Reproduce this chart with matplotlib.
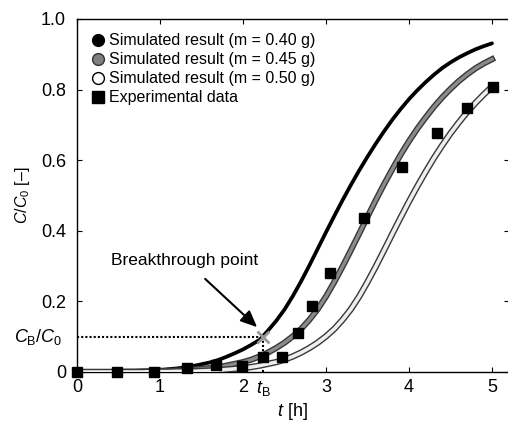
import matplotlib
matplotlib.use('Agg')
import matplotlib.pyplot as plt
import matplotlib.patheffects as pe
from matplotlib.lines import Line2D

plt.rcParams['font.family'] = ['Liberation Sans', 'DejaVu Sans']
plt.rcParams['mathtext.fontset'] = 'custom'
plt.rcParams['mathtext.rm'] = 'Liberation Sans'
plt.rcParams['mathtext.it'] = 'Liberation Sans:italic'

# time axis of the simulated curves [h]
t_sim = [i / 10 for i in range(51)]

# m = 0.40 g
c_040 = [0.000, 0.000, 0.000, 0.001, 0.001, 0.001, 0.002, 0.002, 0.003, 0.004,
         0.006, 0.008, 0.010, 0.013, 0.017, 0.022, 0.027, 0.034, 0.043, 0.053,
         0.064, 0.077, 0.091, 0.117, 0.145, 0.177, 0.215, 0.257, 0.302, 0.349,
         0.396, 0.442, 0.487, 0.530, 0.571, 0.610, 0.647, 0.682, 0.715, 0.745,
         0.773, 0.798, 0.821, 0.842, 0.861, 0.877, 0.891, 0.903, 0.914, 0.923,
         0.931]
# m = 0.45 g
c_045 = [0.000, 0.000, 0.000, 0.000, 0.000, 0.001, 0.001, 0.001, 0.002, 0.002,
         0.002, 0.003, 0.004, 0.005, 0.007, 0.009, 0.011, 0.014, 0.018, 0.023,
         0.028, 0.035, 0.044, 0.055, 0.068, 0.083, 0.101, 0.122, 0.148, 0.178,
         0.214, 0.255, 0.299, 0.345, 0.392, 0.440, 0.487, 0.532, 0.575, 0.616,
         0.654, 0.689, 0.721, 0.751, 0.778, 0.802, 0.824, 0.843, 0.860, 0.874,
         0.886]
# m = 0.50 g
c_050 = [0.000, 0.000, 0.000, 0.000, 0.000, 0.000, 0.000, 0.000, 0.000, 0.001,
         0.001, 0.001, 0.002, 0.002, 0.002, 0.003, 0.004, 0.005, 0.007, 0.009,
         0.011, 0.014, 0.018, 0.023, 0.028, 0.035, 0.044, 0.055, 0.068, 0.083,
         0.101, 0.122, 0.148, 0.178, 0.214, 0.255, 0.299, 0.345, 0.392, 0.438,
         0.483, 0.526, 0.567, 0.606, 0.642, 0.676, 0.707, 0.736, 0.762, 0.786,
         0.808]

# experimental data
t_exp = [0.0, 0.48, 0.93, 1.33, 1.67, 1.99, 2.24, 2.47, 2.66, 2.83, 3.05,
         3.46, 3.92, 4.34, 4.70, 5.01]
c_exp = [0.0, 0.0, 0.0, 0.01, 0.02, 0.017, 0.042, 0.042, 0.11, 0.187, 0.28,
         0.436, 0.58, 0.677, 0.748, 0.807]

# breakthrough point
t_b = 2.24
c_b = 0.1

fig = plt.figure(figsize=(5.08, 4.23), dpi=100)
ax = fig.add_axes([0.1516, 0.1206, 0.8496, 0.8345])

# curves
ax.plot(t_sim, c_040, color='black', lw=2.7, solid_capstyle='round', zorder=3)
ax.plot(t_sim, c_045, color='#8a8a8a', lw=2.4, zorder=3,
        path_effects=[pe.Stroke(linewidth=4.4, foreground='#383838'), pe.Normal()])
ax.plot(t_sim, c_050, color='#eeeeee', lw=2.6, zorder=3,
        path_effects=[pe.Stroke(linewidth=4.6, foreground='#383838'), pe.Normal()])

ax.plot(t_exp, c_exp, 's', color='black', ms=7.5, zorder=4, clip_on=False)

# breakthrough markers
ax.plot([0, t_b], [c_b, c_b], color='black', ls=(0, (1, 1)), lw=1.5, zorder=2)
ax.plot([t_b, t_b], [0, c_b], color='black', ls=(0, (1, 1)), lw=1.5, zorder=2)
ax.plot([t_b], [c_b], 'x', color='#999999', ms=8, mew=2, zorder=5)

ax.annotate('Breakthrough point', xy=(2.17, 0.127), xytext=(1.30, 0.317),
            ha='center', va='center', fontsize=12.5,
            arrowprops=dict(arrowstyle='-|>,head_length=0.8,head_width=0.35',
                            color='black', lw=1.5, shrinkA=9, shrinkB=0))

ax.set_xlim(0, 5.2)
ax.set_ylim(0, 1.0)
ax.set_xticks([0, 1, 2, 3, 4, 5])
ax.set_xticklabels(['0', '1', '2', '3', '4', '5'])
ax.set_yticks([0, 0.2, 0.4, 0.6, 0.8, 1.0])
ax.set_yticklabels(['0', '0.2', '0.4', '0.6', '0.8', '1.0'])
ax.tick_params(direction='in', length=3.5, width=0.8, labelsize=13,
               top=True, right=True)
ax.tick_params(axis='y', pad=8)
ax.tick_params(axis='x', pad=5)
for s in ax.spines.values():
    s.set_linewidth(1.0)

ax.text(-0.17, c_b, r'$C_\mathrm{B}/C_0$', ha='right', va='center', fontsize=13)
ax.text(t_b, -0.02, r'$t_\mathrm{B}$', ha='center', va='top', fontsize=13)

ax.set_xlabel(r'$t$ [h]', fontsize=13, labelpad=4)
ax.set_ylabel(r'$C$/$C_0$ [–]', fontsize=11.5, labelpad=6)

handles = [
    Line2D([], [], ls='none', marker='o', ms=8.5, mfc='black', mec='black'),
    Line2D([], [], ls='none', marker='o', ms=8.5, mfc='#808080', mec='#303030'),
    Line2D([], [], ls='none', marker='o', ms=8.5, mfc='white', mec='black'),
    Line2D([], [], ls='none', marker='s', ms=8.5, mfc='black', mec='black'),
]
labels = ['Simulated result (m = 0.40 g)', 'Simulated result (m = 0.45 g)',
          'Simulated result (m = 0.50 g)', 'Experimental data']
ax.legend(handles, labels, loc='upper left', frameon=False, fontsize=11.5,
          handlelength=0.8, handletextpad=0.3, labelspacing=0.25,
          borderaxespad=0.4, borderpad=0.5)

fig.savefig('out.png', dpi=100)
